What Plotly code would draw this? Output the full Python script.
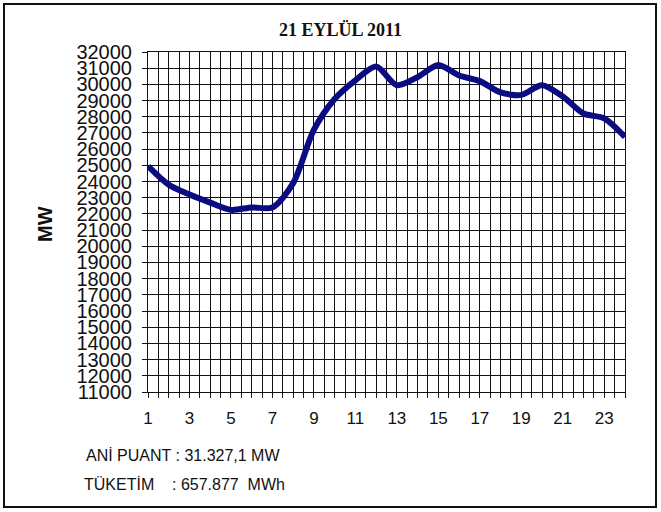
import plotly.graph_objects as go

hours = list(range(1, 25))
load_mw = [24950, 23800, 23200, 22700, 22250, 22400, 22400, 23900,
           27200, 29100, 30250, 31100, 29950, 30450, 31200, 30550,
           30200, 29500, 29350, 29950, 29250, 28200, 27900, 26750]
y_ticks = list(range(11000, 32001, 1000))
x_labels = list(range(1, 24, 2))

title_text = "21 EYLÜL 2011"
peak_text = "ANİ PUANT : 31.327,1 MW"
cons_text = "TÜKETİM\u00a0\u00a0\u00a0\u00a0: 657.877\u00a0\u00a0MWh"

W, H = 661, 512
L, R, T, B = 148, 625, 52, 392


def px(x):
    return (x - L) / (R - L)


def py(y):
    return (B - y) / (B - T)


fig = go.Figure()
fig.add_trace(go.Scatter(
    x=hours, y=load_mw, mode="lines",
    line=dict(color="#0c0c82", width=6, shape="spline", smoothing=0.8),
    hoverinfo="skip", showlegend=False,
))

sans = "Liberation Sans Narrow, Liberation Sans, Arial"

fig.update_layout(
    width=W, height=H,
    margin=dict(l=L, r=W - R, t=T, b=H - B),
    paper_bgcolor="white", plot_bgcolor="white",
    showlegend=False,
    xaxis=dict(
        range=[1, 24], tickvals=x_labels, ticktext=[str(v) for v in x_labels],
        showgrid=True, gridcolor="#111", gridwidth=1,
        ticks="outside", ticklen=5, tickcolor="#111",
        minor=dict(dtick=0.5, tick0=1, showgrid=True, gridcolor="#111", gridwidth=1,
                   ticks="outside", ticklen=5, tickcolor="#111"),
        showline=True, linecolor="#111", linewidth=1, mirror=True,
        zeroline=False, tickfont=dict(family=sans, size=17, color="#111"),
        ticklabelstandoff=6,
    ),
    yaxis=dict(
        range=[11000, 32000], tickvals=y_ticks, ticktext=[str(v) for v in y_ticks],
        showgrid=True, gridcolor="#111", gridwidth=1,
        ticks="outside", ticklen=5, tickcolor="#111",
        showline=True, linecolor="#111", linewidth=1, mirror=True,
        zeroline=False, tickfont=dict(family=sans, size=20, color="#111"),
        ticklabelstandoff=6,
    ),
    font=dict(family="Liberation Sans, Arial", color="#111"),
)

fig.add_annotation(text="<b>" + title_text + "</b>", xref="paper", yref="paper",
                   x=px(340), y=py(30), yanchor="middle", showarrow=False,
                   font=dict(family="Liberation Serif, Times New Roman", size=18, color="#111"))
fig.add_annotation(text="<b>MW</b>", xref="paper", yref="paper",
                   x=px(45), y=py(224), xanchor="center", yanchor="middle",
                   textangle=-90, showarrow=False,
                   font=dict(family="Liberation Sans, Arial", size=20, color="#111"))
fig.add_annotation(text=peak_text, xref="paper", yref="paper", x=px(84), y=py(455),
                   xanchor="left", yanchor="middle", showarrow=False,
                   font=dict(family=sans, size=16, color="#111"))
fig.add_annotation(text=cons_text, xref="paper", yref="paper", x=px(82), y=py(484),
                   xanchor="left", yanchor="middle", showarrow=False,
                   font=dict(family=sans, size=16, color="#111"))

fig.add_shape(type="rect", xref="paper", yref="paper",
              x0=px(4), x1=px(656), y0=py(507), y1=py(4),
              line=dict(color="#111", width=2), layer="above")

fig.write_html("out.html", config={"displayModeBar": False},
               post_script="document.body.style.margin='0';document.body.style.overflow='hidden';")
